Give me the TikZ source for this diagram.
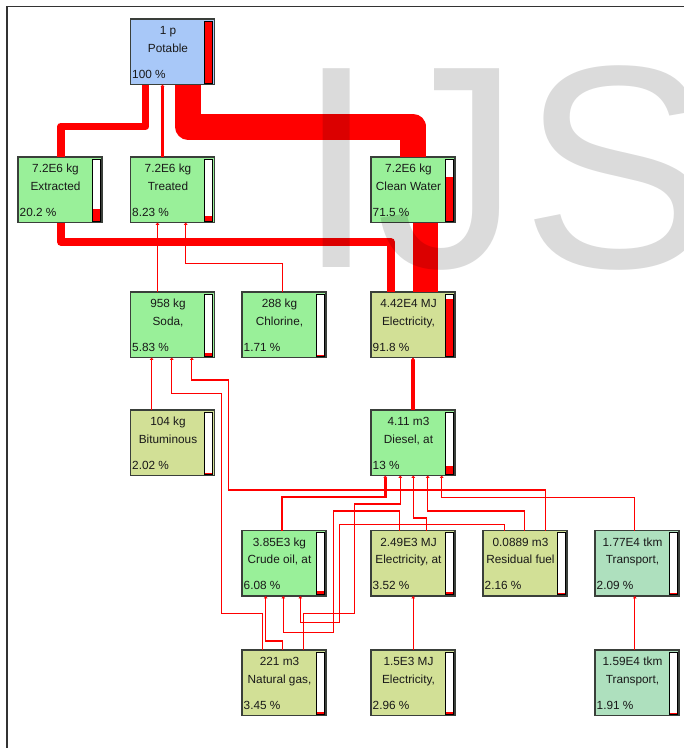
\documentclass[tikz,border=0pt]{standalone}
\usepackage{fontspec}
\setmainfont{Liberation Sans}
\usetikzlibrary{arrows.meta,calc}

\definecolor{potblue}{HTML}{A8C8F8}
\definecolor{procgreen}{HTML}{99F099}
\definecolor{procolive}{HTML}{D2E096}
\definecolor{procteal}{HTML}{AEE0BE}
\definecolor{boxline}{HTML}{3A3F3A}
\definecolor{flowred}{HTML}{FF0000}

\tikzset{
  procbox/.style={draw=boxline, line width=1.5pt, minimum width=84pt,
    minimum height=65.5pt, inner sep=0pt, outer sep=0pt, anchor=north west},
  boxtext/.style={font=\fontsize{11.8}{13}\selectfont, inner sep=0pt, text=black!90},
  flow/.style={draw=flowred, line width=#1, -{Triangle[width=3.6pt,length=2.4pt]}},
  flow/.default=1.15pt,
  bigflow/.style={draw=flowred, line width=#1, line join=round},
}

% process box: name, x, y, fill, amount, process name, share text, share fraction
\newcommand{\procnode}[8]{%
  \node[procbox, fill=#4] (#1) at (#2,#3) {};
  \node[boxtext, anchor=base] (#1-amt) at ($(#1.north west)+(37.5,15.5)$) {#5};
  \node[boxtext, anchor=base] (#1-name) at ($(#1.north west)+(37.5,33)$) {#6};
  \node[boxtext, anchor=base west] (#1-pct) at ($(#1.south west)+(1.5,-6.5)$) {#7};
  \fill[white] ($(#1.north east)+(-9.8,2.4)$) rectangle ($(#1.south east)+(-1.6,-1.4)$);
  \fill[flowred] ($(#1.south east)+(-9.8,-1.4)$) rectangle ($(#1.south east)+(-1.6,{-1.4-#8*61.7})$);
  \draw[black, line width=1.1pt] ($(#1.north east)+(-9.8,2.4)$) rectangle ($(#1.south east)+(-1.6,-1.4)$);
}

\begin{document}
\begin{tikzpicture}[x=1pt,y=-1pt]
\useasboundingbox (0,0) rectangle (684,748);
\fill[white] (0,0) rectangle (684,748);
\clip (0,0) rectangle (684,748);

% window frame
\draw[line width=1.8pt, draw=black!80] (7,748) -- (7,6.5) -- (684,6.5);

% process boxes
\procnode{pot}{130.5}{19}{potblue}{1 p}{Potable}{100 \%}{1}
\procnode{extr}{18}{157}{procgreen}{7.2E6 kg}{Extracted}{20.2 \%}{0.202}
\procnode{treat}{130.5}{157}{procgreen}{7.2E6 kg}{Treated}{8.23 \%}{0.0823}
\procnode{clean}{371}{157}{procgreen}{7.2E6 kg}{Clean Water}{71.5 \%}{0.715}
\procnode{soda}{130.5}{292}{procgreen}{958 kg}{Soda,}{5.83 \%}{0.0583}
\procnode{chlor}{242}{292}{procgreen}{288 kg}{Chlorine,}{1.71 \%}{0.0171}
\procnode{elec}{371}{292}{procolive}{4.42E4 MJ}{Electricity,}{91.8 \%}{0.918}
\procnode{bitum}{130.5}{410}{procolive}{104 kg}{Bituminous}{2.02 \%}{0.0202}
\procnode{diesel}{371}{410}{procgreen}{4.11 m3}{Diesel, at}{13 \%}{0.13}
\procnode{crude}{242}{530.5}{procgreen}{3.85E3 kg}{Crude oil, at}{6.08 \%}{0.0608}
\procnode{elecat}{371}{530.5}{procolive}{2.49E3 MJ}{Electricity, at}{3.52 \%}{0.0352}
\procnode{resid}{483}{530.5}{procolive}{0.0889 m3}{Residual fuel}{2.16 \%}{0.0216}
\procnode{trans}{595}{530.5}{procteal}{1.77E4 tkm}{Transport,}{2.09 \%}{0.0209}
\procnode{ngas}{242}{650}{procolive}{221 m3}{Natural gas,}{3.45 \%}{0.0345}
\procnode{elecb}{371}{650}{procolive}{1.5E3 MJ}{Electricity,}{2.96 \%}{0.0296}
\procnode{transb}{595}{650}{procteal}{1.59E4 tkm}{Transport,}{1.91 \%}{0.0191}

% heavy flows
\draw[bigflow=26pt] (413,0 |- clean.north) -- (413,126.5) -- (188,126.5) -- (188,0 |- pot.south);
\draw[bigflow=25pt] (425,0 |- elec.north) -- (425,0 |- clean.south);
\draw[bigflow=7.5pt] (61,0 |- extr.north) -- (61,126.3) -- (145.7,126.3) -- (145.7,0 |- pot.south);
\draw[bigflow=7.5pt] (391,0 |- elec.north) -- (391,242) -- (61,242) -- (61,0 |- extr.south);
\draw[flow=4.7pt] (413,0 |- diesel.north) -- (413,0 |- elec.south);

% lighter flows
\draw[flow=2.3pt] (162.5,0 |- treat.north) -- (162.5,0 |- pot.south);
\draw[flow=1.7pt] (157.5,0 |- soda.north) -- (157.5,0 |- treat.south);
\draw[flow] (282.3,0 |- chlor.north) -- (282.3,263.3) -- (185.7,263.3) -- (185.7,0 |- treat.south);
\draw[flow] (151.6,0 |- bitum.north) -- (151.6,0 |- soda.south);
\draw[flow] (262.3,0 |- ngas.north) -- (262.3,613.3) -- (221.7,613.3) -- (221.7,393.5) -- (171.7,393.5) -- (171.7,0 |- soda.south);
\draw[flow] (545.6,0 |- resid.north) -- (545.6,490) -- (228.8,490) -- (228.8,380) -- (191.8,380) -- (191.8,0 |- soda.south);
\draw[flow=2.6pt] (282,0 |- crude.north) -- (282,497) -- (385.3,497) -- (385.3,0 |- diesel.south);
\draw[flow] (303.5,0 |- ngas.north) -- (303.5,613.3) -- (354.3,613.3) -- (354.3,504) -- (400.3,504) -- (400.3,0 |- diesel.south);
\draw[flow] (426.7,0 |- elecat.north) -- (426.7,518) -- (413.3,518) -- (413.3,0 |- diesel.south);
\draw[flow] (524.5,0 |- resid.north) -- (524.5,511) -- (427.7,511) -- (427.7,0 |- diesel.south);
\draw[flow] (634.8,0 |- trans.north) -- (634.8,497.5) -- (441.7,497.5) -- (441.7,0 |- diesel.south);
\draw[flow] (399.3,0 |- elecat.north) -- (399.3,511) -- (333.3,511) -- (333.3,632.3) -- (283.3,632.3) -- (283.3,0 |- crude.south);
\draw[flow] (504.3,0 |- resid.north) -- (504.3,524.8) -- (339.2,524.8) -- (339.2,622.7) -- (300.3,622.7) -- (300.3,0 |- crude.south);
\draw[flow] (282.7,0 |- ngas.north) -- (282.7,641) -- (265.7,641) -- (265.7,0 |- crude.south);
\draw[flow] (413.2,0 |- elecb.north) -- (413.2,0 |- elecat.south);
\draw[flow] (634.8,0 |- transb.north) -- (634.8,0 |- trans.south);

% watermark
\node[anchor=base west, inner sep=0pt, text=black, text opacity=0.14,
  font=\fontsize{289}{289}\selectfont] (wm) at (296,267) {IJS};
\end{tikzpicture}
\end{document}
